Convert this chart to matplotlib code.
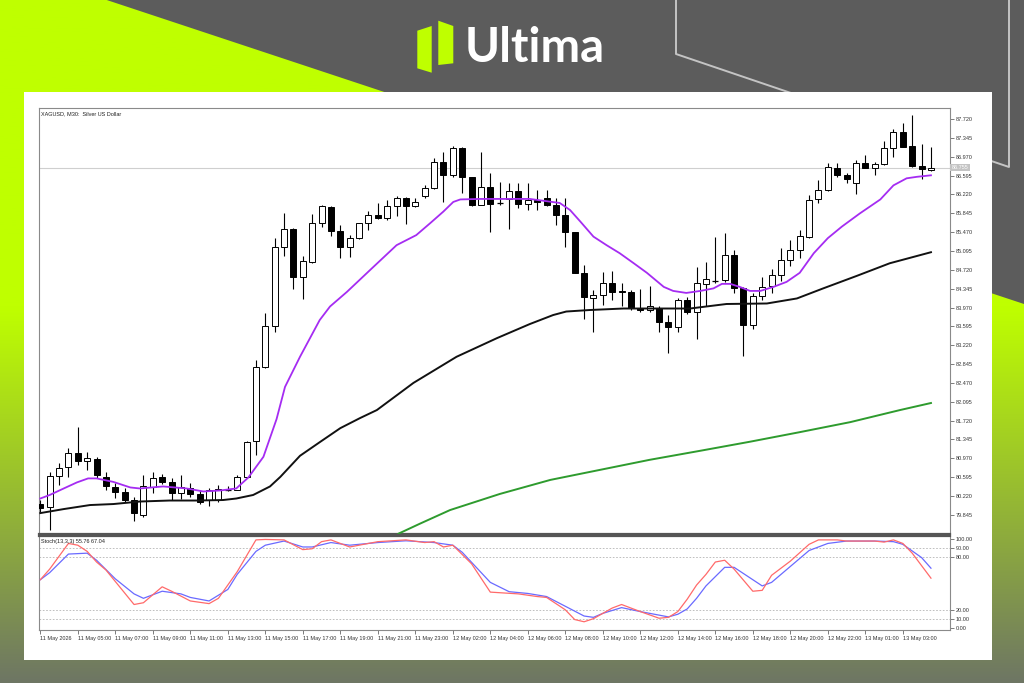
import numpy as np
import matplotlib.pyplot as plt
from matplotlib.patches import Polygon, Rectangle

# XAGUSD M30 candles, bar 0 = 11 May 03:00
opens = [80.06, 80.00, 80.62, 80.79, 81.07, 80.92, 80.96, 80.60, 80.39, 80.29,
         80.14, 79.84, 80.39, 80.59, 80.50, 80.27, 80.37, 80.26, 80.14, 80.14,
         80.35, 80.34, 80.59, 81.32, 82.79, 83.61, 85.18, 85.53, 84.58, 84.88,
         85.65, 85.96, 85.49, 85.18, 85.36, 85.65, 85.81, 85.76, 85.99, 86.15,
         85.99, 86.19, 86.34, 86.87, 86.61, 87.14, 86.56, 86.01, 86.36, 86.03,
         86.13, 86.29, 86.03, 86.11, 86.14, 86.01, 85.81, 85.48, 84.66, 84.15,
         84.22, 84.45, 84.30, 84.27, 83.97, 83.92, 83.97, 83.68, 83.58, 84.11,
         83.89, 84.44, 84.50, 84.52, 85.01, 84.35, 83.62, 84.19, 84.39, 84.61,
         84.91, 85.11, 85.38, 86.12, 86.31, 86.74, 86.61, 86.44, 86.84, 86.74,
         86.82, 87.14, 87.47, 87.19, 86.78, 86.71]
closes = [79.98, 80.62, 80.78, 81.07, 80.92, 80.97, 80.64, 80.41, 80.29, 80.14,
          79.88, 80.42, 80.57, 80.50, 80.27, 80.39, 80.26, 80.11, 80.34, 80.35,
          80.33, 80.59, 81.30, 82.79, 83.61, 85.17, 85.53, 84.58, 84.90, 85.66,
          85.98, 85.49, 85.18, 85.36, 85.65, 85.81, 85.76, 85.99, 86.15, 85.99,
          86.06, 86.34, 86.87, 86.61, 87.14, 86.56, 86.00, 86.36, 86.03, 86.05,
          86.29, 86.03, 86.11, 86.07, 86.01, 85.81, 85.48, 84.65, 84.17, 84.22,
          84.45, 84.27, 84.27, 83.97, 83.92, 83.99, 83.69, 83.58, 84.11, 83.89,
          84.45, 84.53, 84.48, 85.01, 84.35, 83.62, 84.19, 84.38, 84.61, 84.91,
          85.11, 85.40, 86.11, 86.31, 86.77, 86.61, 86.53, 86.85, 86.74, 86.82,
          87.14, 87.47, 87.17, 86.79, 86.72, 86.75]
highs = [80.14, 80.70, 80.88, 81.17, 81.60, 81.10, 81.00, 80.70, 80.47, 80.37,
         80.21, 80.64, 80.70, 80.66, 80.57, 80.64, 80.48, 80.33, 80.37, 80.44,
         80.42, 80.64, 81.32, 82.93, 83.86, 85.35, 85.86, 85.55, 84.99, 85.83,
         86.01, 85.99, 85.61, 85.41, 85.66, 85.88, 86.05, 86.11, 86.19, 86.17,
         86.14, 86.41, 86.94, 87.07, 87.19, 87.16, 86.57, 87.07, 86.64, 86.47,
         86.45, 86.45, 86.44, 86.31, 86.31, 86.14, 86.14, 85.48, 84.82, 84.32,
         84.68, 84.70, 84.45, 84.32, 84.33, 84.40, 83.99, 83.82, 84.15, 84.18,
         84.78, 84.88, 85.37, 85.45, 85.11, 84.38, 84.25, 84.58, 84.74, 85.15,
         85.31, 85.51, 86.21, 86.51, 86.84, 86.85, 86.64, 86.90, 87.00, 86.87,
         87.29, 87.52, 87.65, 87.80, 87.22, 87.17]
lows = [79.90, 79.54, 80.44, 80.60, 80.84, 80.74, 80.57, 80.34, 80.19, 80.11,
        79.73, 79.81, 80.27, 80.46, 80.14, 80.17, 80.21, 80.07, 80.02, 80.11,
        80.31, 80.33, 80.57, 81.04, 82.76, 83.49, 84.99, 84.33, 84.13, 84.85,
        85.57, 85.39, 84.95, 84.98, 85.33, 85.51, 85.74, 85.72, 85.79, 85.63,
        85.97, 86.14, 86.32, 86.06, 86.57, 86.25, 85.99, 86.00, 85.48, 86.01,
        85.53, 85.94, 85.91, 85.91, 85.99, 85.61, 85.18, 84.65, 83.74, 83.49,
        84.02, 84.12, 83.99, 83.92, 83.89, 83.89, 83.49, 83.07, 83.49, 83.84,
        83.34, 83.99, 84.46, 84.48, 84.25, 83.01, 83.54, 84.12, 84.25, 84.50,
        84.80, 84.95, 85.35, 86.04, 86.29, 86.56, 86.45, 86.23, 86.74, 86.61,
        86.80, 86.97, 87.17, 86.77, 86.52, 86.69]
last_price = 86.755

# moving averages (bar position, price)
ma_fast_x = [0, 1, 2.5, 3.9, 5.1, 6, 7.8, 9.6, 10.6, 13.1, 15.6, 17.4, 19.2, 20.9, 22.2,
             23.8, 25.2, 26.1, 27.7, 29.8, 30.9, 32.7, 35.2, 38.0, 40.1, 41.6, 43, 44.05,
             44.8, 46.9, 52.2, 55.4, 56.5, 57.6, 59, 60.4, 61.8, 63.3, 64.7, 66.5, 67.5,
             68.9, 70.4, 71.8, 72.7, 73.6, 74.6, 75.7, 76.8, 78.2, 79.6, 81.0, 82.5, 84.0,
             85.5, 87.4, 89.6, 91, 92.4, 93.5, 95]
ma_fast = [80.17, 80.24, 80.37, 80.49, 80.57, 80.57, 80.50, 80.39, 80.37, 80.41, 80.37,
           80.31, 80.33, 80.37, 80.59, 81.00, 81.75, 82.39, 82.99, 83.72, 83.99, 84.28,
           84.72, 85.21, 85.41, 85.65, 85.88, 86.07, 86.12, 86.13, 86.13, 86.05, 85.91,
           85.68, 85.38, 85.21, 85.05, 84.85, 84.66, 84.38, 84.30, 84.26, 84.30, 84.35,
           84.44, 84.44, 84.38, 84.30, 84.30, 84.38, 84.48, 84.66, 85.05, 85.35, 85.58,
           85.84, 86.12, 86.40, 86.54, 86.57, 86.60]
ma_mid_x = [0, 2.5, 5.3, 7.8, 10.6, 13.8, 16.7, 19.5, 20.9, 22.7, 24.5, 25.6, 27.7, 29.8,
            32, 34.1, 35.9, 39.8, 44.4, 48.7, 52.2, 54.7, 56.1, 58.6, 62.2, 69.3, 73.2,
            77.5, 80.7, 83.5, 87.1, 90.6, 95]
ma_mid = [79.88, 79.96, 80.04, 80.06, 80.11, 80.13, 80.13, 80.14, 80.17, 80.24, 80.41,
          80.60, 81.02, 81.29, 81.57, 81.77, 81.93, 82.47, 82.99, 83.36, 83.64, 83.82,
          83.89, 83.92, 83.95, 83.95, 84.04, 84.05, 84.15, 84.35, 84.60, 84.85, 85.07]
ma_slow_x = [38.2, 40.5, 43.7, 49, 54.4, 59.7, 65, 70.4, 75.7, 81, 86.4, 91.7, 95]
ma_slow = [79.47, 79.67, 79.94, 80.26, 80.54, 80.74, 80.94, 81.12, 81.30, 81.49, 81.69,
           81.93, 82.07]

# Stochastic(13,3,3)
stoch_k_x = [0, 1, 3, 4, 5, 6, 7, 8, 10, 11, 13, 14, 16, 18, 19, 21, 23, 24, 26, 28, 29,
             30, 31, 33, 34, 36, 39, 41, 42, 43, 44, 46, 48, 51, 53, 54, 56, 57, 58, 59,
             61, 62, 64, 66, 67, 68, 69, 70, 71, 72, 73, 74, 76, 77, 78, 80, 82, 83, 85,
             86, 89, 90, 91, 92, 93, 95]
stoch_k = [54, 66, 95, 93, 86, 74, 65, 52, 26, 28, 46, 41, 30, 27, 33, 63, 99, 99.5, 99,
           88, 89, 97, 99, 91, 93, 97, 99, 96, 97, 91, 93, 72, 40, 38, 35, 34, 20, 9, 6.5,
           10, 22, 26, 18, 10.5, 11.5, 18, 32, 48, 60, 74, 76, 66, 41, 42, 59, 75, 94, 99,
           99, 97.7, 97.7, 96.5, 99, 95, 84, 55.76]
stoch_d_x = [0, 1, 3, 5, 6, 8, 10, 11, 13, 15, 16, 18, 20, 21, 23, 24, 26, 28, 29, 31, 33,
             34, 36, 39, 42, 44, 45, 48, 50, 52, 54, 56, 58, 59, 60, 62, 64, 67, 68, 69,
             70, 71, 73, 74, 75, 77, 78, 80, 82, 84, 86, 89, 91, 92, 94, 95]
stoch_d = [54, 62, 83, 84, 76, 55, 38, 33, 41, 38, 34, 30, 43, 60, 86, 93, 97.7, 91, 91,
           96, 93, 94, 96, 98, 96, 93, 85, 51, 40.5, 38.5, 35, 24, 13, 11.5, 16, 22.5, 18,
           12, 15, 21, 33, 47, 68, 68, 61, 47, 51, 69, 87, 95, 97.7, 97.7, 97, 94, 79,
           67.04]

price_ticks = [87.720, 87.345, 86.970, 86.595, 86.220, 85.845, 85.470, 85.095, 84.720,
               84.345, 83.970, 83.595, 83.220, 82.845, 82.470, 82.095, 81.720, 81.345,
               80.970, 80.595, 80.220, 79.845]
stoch_ticks = [0, 10, 20, 80, 90, 100]
stoch_levels = [10, 20, 80, 90]
time_labels = ['11 May 2026', '11 May 05:00', '11 May 07:00', '11 May 09:00',
               '11 May 11:00', '11 May 13:00', '11 May 15:00', '11 May 17:00',
               '11 May 19:00', '11 May 21:00', '11 May 23:00', '12 May 02:00',
               '12 May 04:00', '12 May 06:00', '12 May 08:00', '12 May 10:00',
               '12 May 12:00', '12 May 14:00', '12 May 16:00', '12 May 18:00',
               '12 May 20:00', '12 May 22:00', '13 May 01:00', '13 May 03:00']
time_ticks = list(range(0, 96, 4))

W, H = 1024, 683
LIME = '#bfff00'
GREY = '#5c5c5c'
small = ['Liberation Sans', 'DejaVu Sans']
FS = 4.0

fig = plt.figure(figsize=(W / 100, H / 100), dpi=100)
fig.patch.set_facecolor(GREY)

# ---- branded background ----
bg = fig.add_axes([0, 0, 1, 1], zorder=-5)
bg.set_xlim(0, W)
bg.set_ylim(H, 0)
bg.axis('off')

grad = np.linspace(0, 1, 300)[:, None]
lime = np.array([191, 255, 0]) / 255
dark = np.array([110, 118, 100]) / 255
t = np.clip((grad - 0.45) / 0.55, 0, 1)
img = lime[None, None, :] * (1 - t[..., None]) + dark[None, None, :] * t[..., None]
im = bg.imshow(img, extent=[0, W, H, 0], aspect='auto', zorder=0)
clip = Polygon([(0, 0), (106.7, 0), (W, 304), (W, H), (0, H)], closed=True,
               transform=bg.transData, facecolor='none', edgecolor='none')
bg.add_patch(clip)
im.set_clip_path(clip)

bg.plot([676, 676, 1009, 1009], [0, 54, 167, 0], color='#c4c4c4', lw=1.4, zorder=1)

# logo
bg.add_patch(Polygon([(417.3, 30.7), (431.7, 26), (431.7, 72.7), (417.3, 68.3)],
                     closed=True, facecolor=LIME, edgecolor='none', zorder=2))
bg.add_patch(Polygon([(438.3, 20.7), (453.3, 26), (453.3, 63.3), (438.3, 65)],
                     closed=True, facecolor=LIME, edgecolor='none', zorder=2))
bg.text(465, 48, 'Ultima', color='white', fontsize=34, fontweight='bold',
        family=['Lato', 'DejaVu Sans'], ha='left', va='center', zorder=2)

# white card
bg.add_patch(Rectangle((24, 91.7), 968, 568.3, facecolor='white', edgecolor='none', zorder=3))

# ---- price chart ----
ax = fig.add_axes([39.3 / W, 1 - 534 / H, 910.7 / W, 426.5 / H])
ax.set_xlim(-0.107, 97.03)
ax.set_ylim(79.464, 87.949)

for i in range(len(opens)):
    o, c, h, l = opens[i], closes[i], highs[i], lows[i]
    ax.vlines(i, l, h, color='black', lw=0.8, zorder=2)
    bull = c >= o
    body = abs(c - o)
    if body < 0.02:
        ax.hlines((o + c) / 2, i - 0.32, i + 0.32, color='black', lw=0.9, zorder=3)
    else:
        ax.add_patch(Rectangle((i - 0.32, min(o, c)), 0.64, body,
                               facecolor='white' if bull else 'black',
                               edgecolor='black', lw=0.7, zorder=3))

ax.plot(ma_slow_x, ma_slow, color='#2e9b2e', lw=1.4, zorder=4)
ax.plot(ma_mid_x, ma_mid, color='#111111', lw=1.4, zorder=4)
ax.plot(ma_fast_x, ma_fast, color='#a52cf2', lw=1.3, zorder=4)
ax.axhline(last_price, color='#cfcfcf', lw=0.8, zorder=1)

ax.yaxis.tick_right()
ax.set_yticks(price_ticks)
ax.set_yticklabels(['%.3f' % p for p in price_ticks], family=small)
ax.tick_params(axis='y', length=3, width=0.6, color='#666666', labelsize=FS,
               labelcolor='#333333', pad=1)
ax.set_xticks([])
for s in ax.spines.values():
    s.set_color('#8a8a8a')
    s.set_linewidth(0.8)
ax.spines['bottom'].set_color('#555555')
ax.spines['bottom'].set_linewidth(1.6)

ax.text(0.002, 0.99, 'XAGUSD, M30:  Silver US Dollar', transform=ax.transAxes,
        fontsize=FS, family=small, color='#222222', ha='left', va='top')
ax.text(1.002, last_price, '%.3f' % last_price, transform=ax.get_yaxis_transform(),
        fontsize=FS, family=small, color='white', ha='left', va='center',
        bbox=dict(boxstyle='square,pad=0.25', facecolor='#c4c4c4', edgecolor='none'))

# ---- stochastic ----
ax2 = fig.add_axes([39.3 / W, 1 - 630 / H, 910.7 / W, 94 / H])
ax2.set_xlim(-0.107, 97.03)
ax2.set_ylim(-2.8, 103.4)
for lv in stoch_levels:
    ax2.axhline(lv, color='#b4b4b4', lw=0.6, ls=(0, (2, 2)), zorder=1)
ax2.plot(stoch_d_x, stoch_d, color='#6a6aff', lw=0.9, zorder=3)
ax2.plot(stoch_k_x, stoch_k, color='#ff6a6a', lw=0.9, zorder=3)

ax2.yaxis.tick_right()
ax2.set_yticks(stoch_ticks)
ax2.set_yticklabels(['%.2f' % v for v in stoch_ticks], family=small)
ax2.tick_params(axis='y', length=3, width=0.6, color='#666666', labelsize=FS,
                labelcolor='#333333', pad=1)
ax2.set_xticks(time_ticks)
ax2.set_xticklabels(time_labels, family=small, ha='left')
ax2.tick_params(axis='x', length=3, width=0.6, color='#666666', labelsize=FS,
                labelcolor='#333333', pad=1)
for s in ax2.spines.values():
    s.set_color('#8a8a8a')
    s.set_linewidth(0.8)
ax2.spines['top'].set_color('#555555')
ax2.spines['top'].set_linewidth(1.6)
ax2.text(0.002, 0.97, 'Stoch(13,3,3) 55.76 67.04', transform=ax2.transAxes,
         fontsize=FS, family=small, color='#222222', ha='left', va='top')

fig.savefig('out.png', dpi=100, facecolor=fig.get_facecolor())
